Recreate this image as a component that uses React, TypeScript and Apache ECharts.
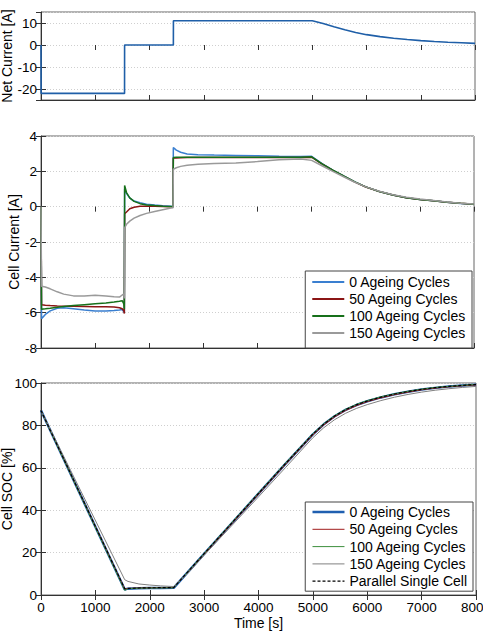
import React, { useEffect, useRef } from "react";
import * as echarts from "echarts";

// ---------- Data ----------
const netTime = [0, 2, 1540, 1541, 2440, 2441, 5000, 5200, 5400, 5600, 5800, 6000, 6250, 6500, 6750, 7000, 7250, 7500, 7750, 8000];
const netCurrent = [0, -22, -22, 0, 0, 11, 11, 9.8, 8.3, 6.9, 5.7, 4.7, 3.8, 3.1, 2.5, 2.0, 1.6, 1.25, 1.0, 0.75];

const cellTime = [0, 10, 80, 170, 300, 420, 600, 800, 1000, 1200, 1350, 1450, 1500, 1530, 1540, 1545, 1580, 1640, 1720, 1830, 1950, 2100, 2250, 2400, 2440, 2445, 2500, 2580, 2700, 2900, 3200, 3600, 4000, 4400, 4800, 5000, 5200, 5400, 5600, 5800, 6000, 6250, 6500, 6750, 7000, 7250, 7500, 7750, 8000];
const cell0 = [0, -6.35, -6.1, -5.9, -5.75, -5.72, -5.78, -5.85, -5.9, -5.9, -5.88, -5.85, -5.82, -5.95, -6.0, 1.0, 0.75, 0.48, 0.32, 0.22, 0.14, 0.09, 0.05, 0.02, 0.0, 3.35, 3.2, 3.08, 2.98, 2.94, 2.92, 2.9, 2.88, 2.85, 2.84, 2.85, 2.42, 2.05, 1.72, 1.4, 1.12, 0.86, 0.66, 0.51, 0.41, 0.33, 0.25, 0.18, 0.14];
const cell50 = [0, -5.55, -5.58, -5.6, -5.62, -5.63, -5.64, -5.65, -5.66, -5.67, -5.68, -5.72, -5.78, -5.9, -6.05, -0.4, -0.3, -0.12, -0.03, 0.02, 0.03, 0.02, 0.01, 0.0, 0.0, 2.75, 2.76, 2.77, 2.78, 2.78, 2.78, 2.78, 2.78, 2.78, 2.79, 2.8, 2.4, 2.04, 1.71, 1.39, 1.11, 0.86, 0.66, 0.51, 0.41, 0.33, 0.25, 0.19, 0.14];
const cell100 = [0, -5.8, -5.78, -5.75, -5.7, -5.65, -5.6, -5.55, -5.5, -5.45, -5.4, -5.35, -5.32, -5.5, -5.8, 1.2, 0.8, 0.5, 0.3, 0.17, 0.1, 0.06, 0.03, 0.01, 0.0, 2.78, 2.8, 2.8, 2.8, 2.8, 2.8, 2.8, 2.8, 2.8, 2.8, 2.82, 2.41, 2.05, 1.72, 1.4, 1.12, 0.86, 0.66, 0.51, 0.41, 0.33, 0.25, 0.19, 0.14];
const cell150 = [0, -4.5, -4.55, -4.65, -4.82, -4.95, -5.05, -5.05, -5.02, -5.05, -5.1, -5.12, -5.0, -4.95, -5.2, -1.2, -1.0, -0.82, -0.65, -0.5, -0.38, -0.27, -0.17, -0.08, -0.06, 2.12, 2.2, 2.28, 2.35, 2.4, 2.44, 2.47, 2.55, 2.65, 2.7, 2.62, 2.3, 1.98, 1.68, 1.38, 1.12, 0.87, 0.68, 0.53, 0.43, 0.35, 0.27, 0.2, 0.15];

const socTime = [0, 1540, 1600, 1800, 2000, 2200, 2440, 2700, 3000, 3500, 4000, 4500, 5000, 5200, 5400, 5600, 5800, 6000, 6250, 6500, 6750, 7000, 7250, 7500, 7750, 8000];
const soc0 = [87, 2.6, 3.0, 3.2, 3.3, 3.35, 3.4, 10.8, 19.4, 33.6, 47.8, 62, 75.8, 80.5, 84.3, 87.3, 89.6, 91.4, 93.2, 94.7, 95.9, 96.9, 97.7, 98.3, 98.8, 99.2];
const soc50 = [87, 2.8, 3.1, 3.3, 3.4, 3.45, 3.5, 10.7, 19.2, 33.4, 47.5, 61.7, 75.5, 80.2, 84.0, 87.0, 89.3, 91.2, 93.0, 94.5, 95.7, 96.8, 97.6, 98.2, 98.7, 99.1];
const soc100 = [87, 2.2, 3.0, 3.2, 3.3, 3.35, 3.4, 10.9, 19.6, 33.9, 48.1, 62.3, 76.1, 80.8, 84.6, 87.6, 89.9, 91.7, 93.5, 94.9, 96.1, 97.1, 97.9, 98.4, 98.9, 99.3];
const soc150 = [87, 7.2, 6.4, 5.2, 4.7, 4.3, 4.0, 10.3, 18.8, 32.5, 46.3, 60.2, 74.2, 78.9, 82.7, 85.7, 88.0, 89.8, 91.7, 93.3, 94.6, 95.7, 96.6, 97.3, 97.9, 98.4];
const socSingle = [87, 2.9, 3.1, 3.3, 3.4, 3.45, 3.5, 10.9, 19.5, 33.7, 47.9, 62.1, 75.9, 80.6, 84.4, 87.4, 89.7, 91.5, 93.3, 94.8, 96.0, 97.0, 97.8, 98.4, 98.9, 99.3];

const cellNames = ["0 Ageing Cycles", "50 Ageing Cycles", "100 Ageing Cycles", "150 Ageing Cycles"];
const socNames = ["0 Ageing Cycles", "50 Ageing Cycles", "100 Ageing Cycles", "150 Ageing Cycles", "Parallel Single Cell"];

const zip = (xs: number[], ys: number[]) => xs.map((x, i) => [x, ys[i]]);

const FONT = "'Liberation Sans', Arial, Helvetica, sans-serif";

export default function App() {
  const ref = useRef<HTMLDivElement>(null);
  useEffect(() => {
    if (!ref.current) return;
    const chart = echarts.init(ref.current, undefined, { renderer: "svg" });

    const grids = [
      { left: 41, top: 12, width: 434, height: 88 },
      { left: 41, top: 136, width: 433, height: 212 },
      { left: 41, top: 383, width: 435, height: 212 },
    ].map((g) => ({
      ...g, show: true, borderColor: "#666", borderWidth: 1, backgroundColor: "#fff",
      containLabel: false, outerBoundsMode: "none",
    }));

    const axisLineStyle = { color: "#333", width: 1 };
    const labelStyle = { color: "#000", fontSize: 13.5, fontFamily: FONT };
    const splitLine = { show: true, lineStyle: { color: "#cfcfcf", type: [1, 2] as any, width: 1 } };
    const plain = (v: number) => String(v);

    const xAxis: any[] = [];
    const yAxis: any[] = [];
    for (let i = 0; i < 3; i++) {
      xAxis.push({
        type: "value", gridIndex: i, min: 0, max: 8000, interval: 1000, position: "bottom",
        axisLine: { show: true, onZero: false, lineStyle: axisLineStyle },
        axisTick: { show: true, inside: true, length: 5, lineStyle: axisLineStyle },
        axisLabel: { show: i === 2, margin: 5, formatter: plain, hideOverlap: false, ...labelStyle },
        splitLine: { show: false },
        name: i === 2 ? "Time [s]" : "",
        nameLocation: "middle", nameGap: 21, nameMoveOverlap: false,
        nameTextStyle: { fontSize: 14, color: "#000", fontFamily: FONT },
      });
    }
    for (let i = 0; i < 3; i++) {
      xAxis.push({
        type: "value", gridIndex: i, min: 0, max: 8000, interval: 1000, position: "top",
        axisLine: { show: false },
        axisTick: { show: true, inside: true, length: 5, lineStyle: axisLineStyle },
        axisLabel: { show: false }, splitLine: { show: false },
      });
    }
    const yDefs = [
      { min: -25, max: 15, name: "Net Current [A]", gap: 27 },
      { min: -8, max: 4, interval: 2, name: "Cell Current [A]", gap: 20 },
      { min: 0, max: 100, interval: 20, name: "Cell SOC [%]", gap: 27 },
    ];
    yDefs.forEach((d, i) => {
      yAxis.push({
        type: "value", gridIndex: i, min: d.min, max: d.max,
        ...(d.interval ? { interval: d.interval } : {}),
        position: "left",
        axisLine: { show: true, onZero: false, lineStyle: axisLineStyle },
        axisTick: { show: true, inside: true, length: 5, lineStyle: axisLineStyle },
        axisLabel: {
          margin: 4, formatter: plain, ...labelStyle,
          ...(i === 0 ? { showMinLabel: false, showMaxLabel: false } : {}),
        },
        splitLine,
        name: d.name, nameLocation: "middle", nameGap: d.gap, nameMoveOverlap: false,
        nameTextStyle: { fontSize: 14, color: "#000", fontFamily: FONT },
      });
    });
    yDefs.forEach((d, i) => {
      yAxis.push({
        type: "value", gridIndex: i, min: d.min, max: d.max,
        ...(d.interval ? { interval: d.interval } : {}),
        position: "right",
        axisLine: { show: false },
        axisTick: { show: true, inside: true, length: 5, lineStyle: axisLineStyle },
        axisLabel: { show: false }, splitLine: { show: false },
      });
    });

    const cellColors = ["#3a7fd0", "#8b1515", "#16701a", "#9a9a9a"];
    const cellWidths = [1.5, 1.5, 1.5, 1.5];
    const cellData = [cell0, cell50, cell100, cell150];
    const socColors = ["#1f5fb0", "#a01c1c", "#3d8f3d", "#808080", "#000000"];
    const socWidths = [2.5, 1, 1, 1, 1.2];
    const socData = [soc0, soc50, soc100, soc150, socSingle];

    const base = { type: "line", showSymbol: false, symbol: "none", silent: true, emphasis: { disabled: true } };

    const series: any[] = [
      {
        ...base, name: "Net", xAxisIndex: 0, yAxisIndex: 0,
        data: zip(netTime, netCurrent),
        lineStyle: { color: "#1f5fa8", width: 1.6 }, itemStyle: { color: "#1f5fa8" },
      },
      ...cellNames.map((n, k) => ({
        ...base, name: n, xAxisIndex: 1, yAxisIndex: 1,
        data: zip(cellTime, cellData[k]),
        lineStyle: { color: cellColors[k], width: cellWidths[k] }, itemStyle: { color: cellColors[k] },
      })),
      ...socNames.map((n, k) => ({
        ...base, name: n, xAxisIndex: 2, yAxisIndex: 2,
        data: zip(socTime, socData[k]),
        lineStyle: { color: socColors[k], width: socWidths[k], type: k === 4 ? [3, 2] : "solid" },
        itemStyle: { color: socColors[k] },
      })),
    ];

    const legendBase = {
      orient: "vertical", itemGap: 3, itemWidth: 32, itemHeight: 14,
      backgroundColor: "#fff", borderColor: "#444", borderWidth: 1, borderRadius: 0,
      selectedMode: false,
      textStyle: { fontSize: 14, color: "#000", fontFamily: FONT },
    };

    const option: any = {
      animation: false,
      textStyle: { fontFamily: FONT },
      grid: grids,
      xAxis, yAxis,
      legend: [
        {
          ...legendBase, right: 11, top: 271, padding: [4, 6, 8, 6],
          data: cellNames.map((n, k) => ({
            name: n,
            lineStyle: { color: cellColors[k], width: 2 },
            itemStyle: { color: cellColors[k], opacity: 0 },
          })),
        },
        {
          ...legendBase, right: 10, top: 502, padding: [3, 6, 3, 6], itemGap: 3.3,
          data: socNames.map((n, k) => ({
            name: n,
            lineStyle: { color: socColors[k], width: socWidths[k], type: k === 4 ? [3, 2] : "solid" },
            itemStyle: { color: socColors[k], opacity: 0 },
          })),
        },
      ],
      series,
    };
    chart.setOption(option);
    return () => chart.dispose();
  }, []);
  return (
    <div
      ref={ref}
      style={{ position: "fixed", left: 0, top: 0, width: 483, height: 641, background: "#fff" }}
    />
  );
}
